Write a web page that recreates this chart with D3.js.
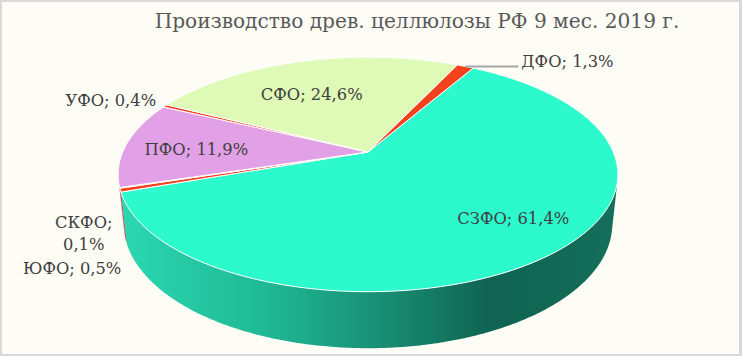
<!DOCTYPE html>
<html><head><meta charset="utf-8">
<script src="https://cdn.jsdelivr.net/npm/d3@7"></script>
<style>html,body{margin:0;padding:0;background:#fff;overflow:hidden}</style>
</head><body><svg id="c" width="742" height="356"></svg>
<script>
// ---- data ----
const categories = ["СЗФО", "ЮФО", "СКФО", "ПФО", "УФО", "СФО", "ДФО"];
const shares = [61.4, 0.5, 0.1, 11.9, 0.4, 24.6, 1.3];
const valueLabels = ["61,4%", "0,5%", "0,1%", "11,9%", "0,4%", "24,6%", "1,3%"];
const chartTitle = "Производство древ. целлюлозы РФ 9 мес. 2019 г.";

// ---- styles / layout ----
const topColors = {"СЗФО":"#2cf9cc","ЮФО":"#f4421f","СКФО":"#f4421f","ПФО":"#e2a0e6","УФО":"#f4421f","СФО":"#defab6","ДФО":"#f4421f"};
const FONT = "'DejaVu Serif', 'Liberation Serif', serif";
const W = 742, H = 356;
const cx = 368, cy = 152, F = 1152, SX = 0.99, DIST = 4.65, SA = 0.456, CA = Math.sqrt(1 - SA*SA), THICK = 0.227;
const startDeg = 30;
const labelLayout = {
  "СЗФО": {r:0.7, dx:23, dy:-2, anchor:"middle"},
  "ПФО":  {r:0.7, dx:-2, dy:3, anchor:"middle"},
  "СФО":  {r:0.7, dx:-7, dy:9, anchor:"middle"},
  "ДФО":  {r:1, dx:56, dy:-5, anchor:"start", leader:53},
  "УФО":  {r:1, dx:-9, dy:-6, anchor:"end"},
  "СКФО": {r:1, dx:-36, dy:34, anchor:"middle", split:true, lineGap:22},
  "ЮФО":  {r:1, dx:1, dy:78, anchor:"end"}
};

const svg = d3.select("#c");
svg.append("rect").attr("width", W).attr("height", H).attr("fill", "#d9d9d9");
svg.append("rect").attr("x", 2).attr("y", 2).attr("width", W - 5).attr("height", H - 4).attr("fill", "#fdfcf5");

function proj(a, r, y) {
  const X = r * Math.sin(a), Z = r * Math.cos(a);
  const depth = DIST + Z * CA - y * SA;
  return [cx + SX * F * X / depth, cy - F * (y * CA + Z * SA) / depth];
}
function arcPts(a0, a1, r, y) {
  const n = Math.max(2, Math.ceil(Math.abs(a1 - a0) / 0.01));
  return d3.range(n + 1).map(i => proj(a0 + (a1 - a0) * i / n, r, y));
}

const pie = d3.pie().sort(null).value(d => d.v)
  .startAngle(startDeg * Math.PI / 180).endAngle(startDeg * Math.PI / 180 + 2 * Math.PI);
const data = categories.map((c, i) => ({c, v: shares[i], lab: valueLabels[i]}));
const arcs = pie(data);
const line = d3.line();

const k = 1 / (DIST * CA);
const vis0 = Math.acos(-k), vis1 = 2 * Math.PI - Math.acos(-k);

const left = proj(vis1, 1, 0)[0], right = proj(vis0, 1, 0)[0];
const defs = svg.append("defs");
const grad = defs.append("linearGradient").attr("id", "sideG")
  .attr("gradientUnits", "userSpaceOnUse").attr("x1", left).attr("x2", right).attr("y1", 0).attr("y2", 0);
[[0, "#2bd8b2"], [0.3, "#1fb894"], [0.55, "#178a70"], [0.75, "#0f6350"], [1, "#146f59"]]
  .forEach(([o, c]) => grad.append("stop").attr("offset", o).attr("stop-color", c));

// side walls
const gSide = svg.append("g");
arcs.forEach(d => {
  const a0 = d.startAngle, a1 = d.endAngle;
  const segs = [];
  for (const off of [0, -2 * Math.PI]) {
    const b0 = Math.max(a0 + off, vis0), b1 = Math.min(a1 + off, vis1);
    if (b1 > b0) segs.push([b0, b1]);
  }
  segs.forEach(([b0, b1]) => {
    const pts = arcPts(b0, b1, 1, 0).concat(arcPts(b1, b0, 1, -THICK));
    const col = d.data.c === "СЗФО" ? "url(#sideG)" : d3.color(topColors[d.data.c]).darker(0.9);
    gSide.append("path").attr("d", line(pts) + "Z").attr("fill", col);
  });
});

// top faces
const gTop = svg.append("g");
arcs.forEach(d => {
  const pts = [proj(0, 0, 0)].concat(arcPts(d.startAngle, d.endAngle, 1, 0));
  gTop.append("path").attr("d", line(pts) + "Z")
    .attr("fill", topColors[d.data.c]).attr("stroke", "#ffffff").attr("stroke-width", 1)
    .attr("stroke-linejoin", "round");
});

// labels
const gLab = svg.append("g").attr("font-family", FONT).attr("fill", "#404040");
const tmp = gLab.append("text").attr("font-size", 20).text("СЗФО; 61,4%");
const labelSize = 20 * 112 / tmp.node().getComputedTextLength();
tmp.remove();
gLab.attr("font-size", labelSize);
arcs.forEach(d => {
  const L = labelLayout[d.data.c];
  const mid = (d.startAngle + d.endAngle) / 2;
  const p = proj(mid, L.r, 0);
  const x = p[0] + L.dx, y = p[1] + L.dy;
  if (L.leader) {
    gLab.append("line").attr("x1", p[0]).attr("y1", p[1]).attr("x2", p[0] + L.leader).attr("y2", p[1])
      .attr("stroke", "#a6a6a6").attr("stroke-width", 2);
  }
  if (L.split) {
    [d.data.c + ";", d.data.lab].forEach((t, i) => {
      gLab.append("text").attr("x", x).attr("y", y + i * L.lineGap).attr("dy", "0.35em")
        .attr("text-anchor", L.anchor).text(t);
    });
  } else {
    gLab.append("text").attr("x", x).attr("y", y).attr("dy", "0.35em")
      .attr("text-anchor", L.anchor).text(d.data.c + "; " + d.data.lab);
  }
});

// title
const t = svg.append("text").attr("font-family", FONT).attr("fill", "#595959")
  .attr("text-anchor", "middle").attr("x", 417).attr("y", 28).attr("font-size", 20).text(chartTitle);
t.attr("font-size", 20 * 525 / t.node().getComputedTextLength());
</script></body></html>
